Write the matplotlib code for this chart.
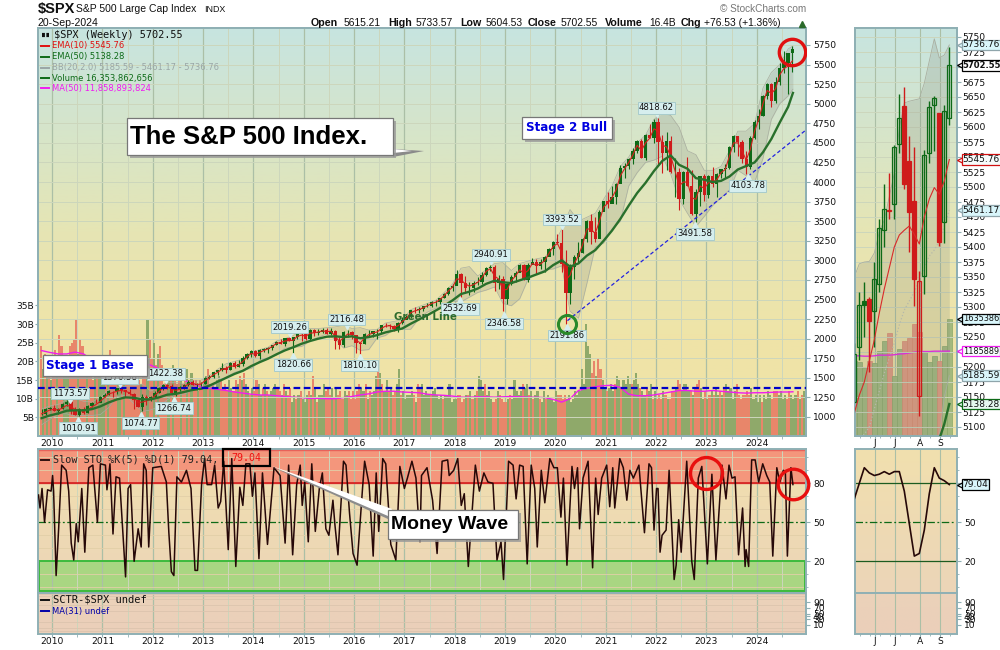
"""S&P 500 weekly chart with slow stochastic panel, StockCharts style."""
import matplotlib
matplotlib.use("Agg")
import matplotlib.pyplot as plt
import numpy as np
from matplotlib.colors import LinearSegmentedColormap
from matplotlib.patches import Polygon, Rectangle
from matplotlib.transforms import blended_transform_factory

# ── Long-range price data, one row per year, Oct 2009 to Sep 2024 ─────────────
spx_close = [
    1036, 1096, 1115,
    1074, 1104, 1169, 1187, 1089, 1031, 1102, 1049, 1141, 1183, 1181, 1258,
    1286, 1327, 1326, 1364, 1345, 1321, 1292, 1219, 1131, 1253, 1247, 1258,
    1312, 1366, 1408, 1398, 1310, 1362, 1379, 1407, 1441, 1412, 1416, 1426,
    1498, 1515, 1569, 1597, 1631, 1606, 1686, 1633, 1682, 1757, 1806, 1848,
    1783, 1859, 1872, 1884, 1924, 1960, 1931, 2003, 1972, 2018, 2068, 2059,
    1995, 2105, 2068, 2086, 2107, 2063, 2104, 1972, 1920, 2079, 2080, 2044,
    1940, 1932, 2060, 2065, 2097, 2099, 2174, 2171, 2168, 2126, 2199, 2239,
    2279, 2364, 2363, 2384, 2412, 2423, 2470, 2472, 2519, 2575, 2648, 2674,
    2824, 2714, 2641, 2648, 2705, 2718, 2816, 2902, 2914, 2711, 2760, 2507,
    2704, 2784, 2834, 2946, 2752, 2942, 2980, 2926, 2977, 3038, 3141, 3231,
    3226, 2954, 2585, 2912, 3044, 3100, 3271, 3500, 3363, 3270, 3622, 3756,
    3714, 3811, 3973, 4181, 4204, 4297, 4395, 4523, 4308, 4605, 4567, 4766,
    4516, 4374, 4530, 4132, 4132, 3785, 4130, 3955, 3586, 3872, 4080, 3840,
    4077, 3970, 4109, 4169, 4180, 4450, 4589, 4508, 4288, 4194, 4568, 4770,
    4846, 5096, 5254, 5036, 5278, 5460, 5522, 5648, 5702,
]
spx_high = [
    1101, 1113, 1130,
    1150, 1113, 1180, 1220, 1174, 1131, 1120, 1129, 1149, 1196, 1227, 1262,
    1302, 1344, 1332, 1368, 1371, 1346, 1356, 1307, 1229, 1293, 1277, 1269,
    1333, 1378, 1420, 1422, 1415, 1364, 1392, 1427, 1475, 1471, 1434, 1448,
    1510, 1530, 1570, 1598, 1687, 1654, 1698, 1709, 1730, 1776, 1814, 1850,
    1851, 1868, 1884, 1898, 1925, 1968, 1991, 2006, 2019, 2018, 2075, 2093,
    2064, 2120, 2117, 2125, 2135, 2130, 2133, 2113, 2021, 2094, 2116, 2104,
    2038, 1963, 2075, 2111, 2104, 2120, 2178, 2194, 2188, 2170, 2214, 2278,
    2301, 2372, 2401, 2399, 2419, 2454, 2484, 2491, 2520, 2582, 2657, 2695,
    2873, 2836, 2801, 2718, 2742, 2791, 2848, 2917, 2941, 2940, 2815, 2801,
    2708, 2813, 2861, 2950, 2955, 2965, 3028, 3014, 3022, 3050, 3154, 3248,
    3338, 3394, 3136, 2955, 3068, 3233, 3280, 3514, 3588, 3550, 3646, 3757,
    3871, 3950, 3984, 4218, 4238, 4303, 4429, 4537, 4546, 4609, 4743, 4809,
    4819, 4595, 4637, 4593, 4307, 4178, 4140, 4325, 4155, 3906, 4050, 4101,
    4095, 4195, 4110, 4170, 4232, 4458, 4607, 4584, 4541, 4393, 4587, 4793,
    4931, 5112, 5265, 5264, 5342, 5524, 5667, 5651, 5734,
]
spx_low = [
    1020, 1029, 1086,
    1071, 1044, 1105, 1135, 1040, 1028, 1011, 1040, 1049, 1131, 1173, 1186,
    1257, 1276, 1249, 1295, 1312, 1258, 1283, 1101, 1122, 1075, 1158, 1202,
    1259, 1312, 1340, 1358, 1292, 1267, 1326, 1355, 1396, 1403, 1343, 1398,
    1426, 1485, 1501, 1536, 1582, 1560, 1605, 1627, 1633, 1646, 1746, 1767,
    1771, 1737, 1834, 1814, 1859, 1915, 1931, 1905, 1964, 1821, 2001, 1973,
    1988, 1981, 2039, 2049, 2067, 2056, 2044, 1867, 1872, 1893, 2019, 1993,
    1812, 1810, 1937, 2034, 2025, 1992, 2074, 2148, 2119, 2098, 2084, 2188,
    2245, 2268, 2322, 2329, 2353, 2406, 2407, 2418, 2447, 2520, 2557, 2605,
    2683, 2533, 2585, 2553, 2594, 2691, 2699, 2803, 2865, 2604, 2631, 2347,
    2444, 2682, 2722, 2849, 2751, 2729, 2952, 2823, 2892, 2856, 3050, 3070,
    3215, 2855, 2192, 2447, 2767, 2966, 3100, 3239, 3209, 3234, 3280, 3634,
    3663, 3726, 3723, 3990, 4057, 4164, 4233, 4368, 4306, 4279, 4561, 4496,
    4223, 4115, 4157, 4121, 3811, 3637, 3721, 3955, 3585, 3492, 3698, 3764,
    3795, 3943, 3809, 4049, 4048, 4166, 4385, 4335, 4238, 4104, 4167, 4546,
    4683, 4845, 5057, 4954, 5011, 5234, 5391, 5119, 5402,
]
ema10 = [
    1040, 1065, 1090,
    1095, 1090, 1115, 1150, 1130, 1095, 1085, 1075, 1090, 1130, 1160, 1200,
    1250, 1295, 1310, 1330, 1340, 1325, 1310, 1250, 1185, 1190, 1205, 1225,
    1270, 1325, 1375, 1390, 1355, 1340, 1355, 1385, 1420, 1430, 1415, 1420,
    1465, 1500, 1540, 1570, 1610, 1620, 1650, 1650, 1665, 1710, 1770, 1810,
    1800, 1825, 1850, 1870, 1900, 1940, 1950, 1970, 1975, 1980, 2030, 2045,
    2030, 2070, 2075, 2085, 2100, 2090, 2095, 2030, 1965, 2010, 2060, 2050,
    1980, 1945, 2010, 2050, 2075, 2085, 2130, 2160, 2165, 2145, 2165, 2220,
    2260, 2330, 2355, 2370, 2395, 2420, 2450, 2465, 2500, 2550, 2610, 2660,
    2765, 2750, 2700, 2670, 2690, 2720, 2780, 2860, 2895, 2800, 2760, 2620,
    2630, 2740, 2800, 2880, 2830, 2870, 2960, 2935, 2955, 3000, 3090, 3180,
    3215, 3100, 2750, 2810, 2960, 3060, 3200, 3400, 3400, 3340, 3500, 3680,
    3730, 3800, 3900, 4080, 4170, 4250, 4350, 4470, 4400, 4500, 4560, 4680,
    4650, 4470, 4450, 4330, 4150, 3950, 4000, 4000, 3800, 3780, 3950, 3920,
    3990, 4000, 4030, 4120, 4160, 4330, 4500, 4500, 4400, 4280, 4420, 4650,
    4800, 5000, 5170, 5130, 5190, 5370, 5450, 5480, 5546,
]

# ── Volume in billions, two bars per month, r = down bar, g = up bar ──────────
volume_b = [
    24, 18, 22, 16, 21, 15,
    20, 23, 18, 27, 24, 19, 17, 20, 24, 25, 26, 31, 22, 26, 24, 19, 18, 16, 17, 15, 17, 19, 18, 21, 18, 17, 20, 23, 16, 14,
    17, 20, 19, 16, 18, 21, 17, 16, 15, 17, 19, 15, 14, 17, 16, 31, 26, 21, 25, 19, 22, 24, 19, 14, 14, 17,
    16, 19, 17, 14, 17, 15, 14, 17, 18, 15, 17, 14, 15, 12, 15, 13, 14, 16, 18, 14, 14, 13, 15, 16,
    15, 13, 14, 12, 15, 13, 12, 15, 14, 16, 15, 17, 14, 12, 11, 13, 12, 15, 14, 11, 13, 14, 12, 11, 12, 13,
    14, 13, 12, 11, 14, 12, 11, 13, 9, 11, 10, 11, 12, 10, 9, 11, 12, 11, 16, 13, 9, 11, 11, 14,
    12, 13, 11, 13, 10, 13, 11, 12, 10, 12, 11, 12, 10, 12, 10, 12, 14, 13, 12, 14, 10, 12, 11, 12,
    16, 18, 17, 14, 12, 15, 12, 13, 11, 12, 14, 18, 11, 12, 10, 11, 11, 12, 11, 9, 14, 13, 14, 11,
    12, 11, 11, 12, 13, 11, 10, 11, 10, 11, 11, 14, 9, 10, 10, 11, 11, 9, 10, 11, 11, 12, 10, 11,
    12, 16, 15, 12, 14, 11, 12, 10, 9, 10, 12, 11, 10, 9, 9, 10, 11, 10, 15, 12, 11, 12, 14, 13,
    14, 11, 12, 10, 11, 12, 10, 9, 12, 10, 11, 10, 10, 9, 12, 11, 11, 10, 11, 10, 11, 9, 10, 12,
    11, 12, 18, 14, 30, 24, 22, 17, 20, 16, 21, 18, 15, 13, 12, 13, 14, 12, 14, 16, 15, 13, 15, 14,
    16, 14, 14, 15, 17, 14, 13, 12, 11, 13, 12, 14, 10, 12, 10, 11, 10, 12, 11, 10, 10, 12, 12, 13,
    15, 14, 12, 14, 14, 12, 12, 11, 13, 14, 15, 13, 10, 12, 10, 11, 12, 11, 13, 11, 12, 11, 13, 14,
    12, 13, 10, 12, 14, 11, 10, 11, 11, 12, 11, 13, 10, 11, 9, 11, 9, 11, 10, 12, 11, 10, 12, 12,
    11, 12, 10, 11, 10, 12, 11, 10, 11, 12, 10, 11, 12, 10, 11, 14, 10, 12, 16.4,
]
volume_updown = (
    "rgrgrg"
    "rrgrrgggrrrrgrrrgrrrgrgg"
    "grgrrrrggrgrrrrrrrgrrgrr"
    "grgrrrrgrgrrrgrrgrgrrgrr"
    "ggrgrgggrrrrggrrgrgrggrg"
    "rrggrgrggggrrgrgrrggrgrg"
    "ggrgrgrgggrrrgrgrrrggrrr"
    "rrrggrgrgggrgrggrgrrggrg"
    "ggggrgrrggggrgggggrggggg"
    "grrrrgrgrgrgggrgggrrgrrr"
    "rgrgggggrggrgrggrggrgggg"
    "grrrrggggggggggggrrgrrgg"
    "rgggrggrggggrgggrggrggrg"
    "rrrgrgrrrgrrggggrgrrrggr"
    "grgrggrgrgggggrrrrrrrggg"
    "ggrggggrrrgg"
    "ggrrggg"
)

# ── Every second month (Oct, Dec, Feb ...) plus the last week ─────────────────
ema50 = [
    985, 1020,
    1045, 1080, 1085, 1085, 1100, 1135,
    1185, 1225, 1250, 1245, 1225, 1225,
    1250, 1285, 1295, 1320, 1345, 1360,
    1400, 1450, 1500, 1550, 1590, 1650,
    1700, 1745, 1800, 1850, 1890, 1935,
    1970, 2000, 2025, 2030, 2020, 2030,
    2005, 2020, 2045, 2080, 2105, 2130,
    2190, 2245, 2300, 2360, 2420, 2490,
    2570, 2600, 2640, 2700, 2740, 2720,
    2710, 2745, 2780, 2820, 2860, 2940,
    3000, 2920, 2960, 3060, 3130, 3250,
    3380, 3530, 3700, 3860, 3990, 4140,
    4270, 4340, 4220, 4170, 4050, 4030,
    4000, 4015, 4070, 4160, 4205, 4250,
    4380, 4550, 4760, 4960, 5138,
]
bb_upper = [
    1100, 1140,
    1160, 1220, 1240, 1200, 1190, 1250,
    1350, 1370, 1390, 1400, 1420, 1330,
    1390, 1440, 1440, 1430, 1470, 1470,
    1530, 1610, 1680, 1710, 1740, 1830,
    1860, 1890, 1970, 2000, 2040, 2100,
    2130, 2130, 2140, 2150, 2170, 2130,
    2140, 2110, 2120, 2200, 2220, 2240,
    2370, 2410, 2450, 2490, 2590, 2700,
    2900, 2920, 2800, 2880, 2960, 2970,
    2870, 2960, 2990, 3020, 3040, 3180,
    3400, 3650, 3500, 3550, 3600, 3780,
    3950, 4200, 4320, 4500, 4600, 4800,
    4880, 4850, 4700, 4400, 4350, 4150,
    4150, 4200, 4400, 4650, 4650, 4750,
    5200, 5400, 5500, 5700, 5737,
]
bb_lower = [
    900, 970,
    1040, 1040, 1010, 1020, 1020, 1030,
    1120, 1260, 1280, 1170, 1070, 1090,
    1130, 1220, 1290, 1290, 1340, 1370,
    1380, 1430, 1510, 1570, 1600, 1620,
    1720, 1760, 1790, 1880, 1890, 1900,
    1970, 2020, 2060, 1990, 1880, 1910,
    1850, 1860, 2010, 2040, 2120, 2120,
    2120, 2260, 2340, 2390, 2430, 2480,
    2470, 2530, 2590, 2620, 2660, 2450,
    2420, 2510, 2760, 2830, 2880, 2890,
    2930, 2350, 2260, 2700, 3170, 3220,
    3400, 3500, 3950, 4120, 4250, 4280,
    4330, 4100, 3780, 3600, 3430, 3560,
    3700, 3800, 3900, 4150, 4080, 4000,
    4300, 4800, 5000, 5100, 5186,
]
volume_ma = [
    22.9, 22.4,
    22.0, 22.0, 22.5, 22.0, 20.5, 19.5,
    18.5, 18.0, 17.5, 18.5, 19.5, 19.0,
    18.0, 17.0, 15.5, 15.0, 14.0, 13.2,
    12.8, 12.5, 12.2, 11.8, 11.5, 11.2,
    11.0, 11.0, 10.8, 10.6, 10.4, 10.3,
    10.1, 10.1, 10.0, 10.0, 10.3, 10.6,
    11.0, 11.3, 11.8, 12.0, 12.0, 11.8,
    11.7, 11.6, 11.2, 11.0, 10.9, 10.7,
    10.4, 10.4, 10.5, 10.5, 10.4, 10.5,
    10.6, 10.5, 10.4, 10.4, 10.3, 9.8,
    9.1, 10.0, 12.2, 12.8, 13.2, 13.5,
    13.6, 13.0, 11.2, 10.8, 10.8, 11.0,
    11.4, 11.8, 12.2, 12.2, 12.0, 12.0,
    12.2, 12.0, 11.8, 11.6, 11.5, 11.6,
    11.6, 11.7, 11.8, 11.8, 11.86,
]

# ── Pivot tags on the long chart ──────────────────────────────────────────────
tag_dates = [2010.36, 2010.52, 2011.34, 2012.26, 2011.76, 2012.42, 2014.72, 2014.79, 2015.85,
             2016.11, 2018.11, 2018.72, 2018.98, 2020.13, 2020.23, 2022.78, 2022.01, 2023.82]
tag_values = [1173.57, 1010.91, 1370.58, 1422.38, 1074.77, 1266.74, 2019.26, 1820.66, 2116.48,
              1810.10, 2532.69, 2940.91, 2346.58, 3393.52, 2191.86, 3491.58, 4818.62, 4103.78]
tag_above = [True, False, True, True, False, False, True, False, True,
             False, False, True, False, True, False, False, True, False]

# ── Slow stochastic turning points ────────────────────────────────────────────
sto_dates = [
    2009.73, 2009.76, 2009.80, 2009.85, 2009.91, 2009.98, 2010.01, 2010.03, 2010.08, 2010.13,
    2010.19, 2010.28, 2010.33, 2010.38, 2010.43, 2010.48, 2010.52, 2010.59, 2010.65, 2010.73,
    2010.81, 2010.90, 2010.96, 2011.06, 2011.09, 2011.15, 2011.21, 2011.27, 2011.34, 2011.46,
    2011.51, 2011.56, 2011.63, 2011.71, 2011.77, 2011.82, 2011.87, 2011.92, 2012.00, 2012.17,
    2012.27, 2012.32, 2012.37, 2012.42, 2012.48, 2012.57, 2012.67, 2012.76, 2012.84, 2012.89,
    2012.97, 2013.03, 2013.08, 2013.17, 2013.23, 2013.30, 2013.35, 2013.41, 2013.50, 2013.57,
    2013.65, 2013.73, 2013.79, 2013.85, 2013.93, 2013.98, 2014.03, 2014.11, 2014.18, 2014.28,
    2014.41, 2014.53, 2014.63, 2014.70, 2014.78, 2014.86, 2014.93, 2014.97, 2015.02, 2015.09,
    2015.16, 2015.23, 2015.31, 2015.37, 2015.44, 2015.50, 2015.58, 2015.62, 2015.68, 2015.79,
    2015.84, 2015.91, 2015.98, 2016.06, 2016.10, 2016.17, 2016.21, 2016.30, 2016.38, 2016.44,
    2016.49, 2016.57, 2016.63, 2016.73, 2016.83, 2016.91, 2017.00, 2017.06, 2017.15, 2017.23,
    2017.31, 2017.34, 2017.45, 2017.56, 2017.65, 2017.75, 2017.86, 2017.89, 2017.98, 2018.06,
    2018.13, 2018.19, 2018.27, 2018.41, 2018.49, 2018.58, 2018.66, 2018.76, 2018.84, 2018.92,
    2018.97, 2019.07, 2019.16, 2019.22, 2019.29, 2019.36, 2019.44, 2019.52, 2019.59, 2019.64,
    2019.72, 2019.79, 2019.89, 2019.97, 2020.04, 2020.11, 2020.16, 2020.23, 2020.33, 2020.38,
    2020.44, 2020.48, 2020.55, 2020.65, 2020.74, 2020.80, 2020.85, 2020.92, 2021.02, 2021.08,
    2021.14, 2021.18, 2021.28, 2021.35, 2021.42, 2021.48, 2021.55, 2021.66, 2021.77, 2021.86,
    2021.91, 2021.96, 2022.01, 2022.04, 2022.08, 2022.12, 2022.20, 2022.26, 2022.36, 2022.40,
    2022.45, 2022.50, 2022.61, 2022.71, 2022.76, 2022.84, 2022.91, 2023.02, 2023.11, 2023.19,
    2023.31, 2023.39, 2023.45, 2023.51, 2023.57, 2023.64, 2023.72, 2023.77, 2023.79, 2023.84,
    2023.90, 2023.97, 2024.04, 2024.12, 2024.20, 2024.26, 2024.32, 2024.40, 2024.46, 2024.53,
    2024.57, 2024.61, 2024.68, 2024.72,
]
sto_values = [
    71, 61, 76, 50, 75, 74, 86, 74, 9, 45,
    94, 90, 74, 34, 21, 49, 35, 76, 27, 92,
    94, 50, 95, 94, 75, 95, 41, 85, 84, 8,
    76, 79, 20, 45, 31, 95, 90, 31, 92, 93,
    81, 42, 12, 9, 85, 81, 90, 76, 13, 13,
    79, 99, 79, 79, 94, 61, 66, 97, 29, 99,
    16, 77, 63, 95, 95, 70, 88, 22, 88, 33,
    92, 86, 34, 94, 25, 79, 94, 63, 81, 35,
    95, 43, 76, 88, 45, 40, 67, 48, 25, 97,
    94, 57, 26, 17, 39, 77, 97, 79, 24, 88,
    43, 99, 95, 33, 21, 93, 76, 84, 97, 84,
    35, 86, 92, 67, 26, 97, 98, 86, 90, 99,
    63, 72, 16, 94, 74, 88, 81, 80, 21, 35,
    6, 97, 94, 68, 94, 93, 18, 94, 76, 31,
    90, 65, 99, 92, 92, 54, 84, 17, 93, 76,
    92, 45, 84, 97, 15, 84, 56, 84, 94, 62,
    92, 61, 99, 92, 67, 90, 84, 94, 42, 95,
    92, 44, 76, 76, 27, 40, 44, 90, 6, 17,
    52, 27, 97, 20, 6, 84, 93, 18, 87, 21,
    94, 68, 94, 84, 85, 25, 61, 16, 29, 16,
    98, 98, 81, 95, 86, 81, 24, 92, 81, 90,
    89, 24, 92, 79.04,
]

# ── Zoomed weekly panel, May to Sep 2024 ──────────────────────────────────────
week_open = [5142, 5233, 5310, 5313, 5294, 5338, 5429, 5460, 5471, 5572,
             5635, 5543, 5476, 5151, 5351, 5557, 5637, 5623, 5442, 5615]
week_high = [5240, 5325, 5342, 5316, 5375, 5447, 5505, 5523, 5570, 5655,
             5667, 5585, 5567, 5360, 5561, 5643, 5651, 5623, 5636, 5734]
week_low = [5142, 5211, 5250, 5191, 5234, 5325, 5400, 5447, 5447, 5557,
            5497, 5391, 5302, 5119, 5322, 5540, 5560, 5402, 5406, 5604]
week_close = [5222, 5303, 5304, 5277, 5346, 5431, 5464, 5460, 5567, 5615,
              5505, 5459, 5346, 5344, 5554, 5634, 5648, 5408, 5626, 5702.55]
week_ema10 = [5123, 5153, 5175, 5210, 5245, 5290, 5330, 5365, 5400, 5420,
              5428, 5435, 5421, 5405, 5450, 5480, 5499, 5488, 5510, 5545.76]
week_bb_upper = [5350, 5372, 5375, 5376, 5390, 5425, 5445, 5484, 5523, 5598,
                 5640, 5643, 5645, 5647, 5673, 5710, 5747, 5715, 5720, 5736.76]
week_bb_mid = [5070, 5080, 5088, 5100, 5130, 5160, 5190, 5215, 5240, 5270,
               5295, 5310, 5325, 5345, 5365, 5385, 5395, 5410, 5435, 5461.17]
week_bb_lower = [4980, 4980, 5000, 5010, 5020, 5030, 5040, 5050, 5060, 5065,
                 5070, 5070, 5060, 5050, 5055, 5060, 5065, 5085, 5150, 5185.59]
week_ema50 = [4800, 4815, 4830, 4845, 4860, 4880, 4900, 4920, 4940, 4960,
              4975, 4990, 5000, 5010, 5025, 5045, 5065, 5080, 5105, 5138.28]
week_volume = [10.5, 10.29, 9.54, 10.47, 10.15, 11.87, 13.27, 14.34, 8.38, 12.1,
               13.27, 13.64, 15.64, 14.48, 11.87, 10.33, 11.17, 10.47, 12.57, 16.35]
week_volume_ma = [11.2, 11.2, 11.15, 11.15, 11.2, 11.3, 11.3, 11.3, 11.35, 11.45,
                  11.5, 11.6, 11.7, 11.8, 11.8, 11.8, 11.85, 11.85, 11.85, 11.86]
week_sto = [68, 80, 92, 88, 86, 87, 89, 87, 89, 89,
            74, 49, 24, 26, 44, 72, 92, 84, 82, 79.04]

price_ticks = list(range(1000, 5751, 250))
volume_ticks = [5, 10, 15, 20, 25, 30, 35]
year_ticks = list(range(2010, 2025))
week_price_ticks = list(range(5100, 5751, 25))
week_month_ticks = [4.14, 8.14, 13.14, 17.14]
week_month_labels = ["J", "J", "A", "S"]
sctr_ticks = [90, 70, 50, 40, 30, 10]

GREEN = "#0d6a17"
RED = "#cf1b1b"
SPINE = "#8fb0b4"
GRID_DARK = "#abbfa6"
GRID_LIGHT = "#ccd6bc"
TEXT = "#101010"
SANS = "Liberation Sans"
MONO = "DejaVu Sans Mono"
TICK_SIZE = 6.6

plt.rcParams["font.family"] = "DejaVu Sans"
fig = plt.figure(figsize=(10, 6.5), dpi=100, facecolor="white")


def panel(left, top, right, bottom, label):
    return fig.add_axes([left / 1000, 1 - bottom / 650, (right - left) / 1000, (bottom - top) / 650],
                        label=label)


def gradient(ax, colors):
    cmap = LinearSegmentedColormap.from_list("bg", colors)
    ax.imshow(np.linspace(0, 1, 256)[:, None], cmap=cmap, extent=(0, 1, 0, 1),
              transform=ax.transAxes, aspect="auto", zorder=0)


def frame(ax):
    for spine in ax.spines.values():
        spine.set_color(SPINE)
        spine.set_linewidth(1.4)


def year_axis(ax, labels):
    ax.set_xticks(year_ticks)
    ax.set_xticks([y + 0.5 for y in year_ticks], minor=True)
    ax.set_xlim(2009.72, 2024.98)
    ax.tick_params(axis="x", which="major", length=2, pad=0.5, labelsize=TICK_SIZE, color=SPINE,
                   labelbottom=labels, labelcolor=TEXT)
    ax.tick_params(axis="x", which="minor", length=2, color=SPINE)
    ax.grid(True, axis="x", which="major", color=GRID_DARK, lw=0.9, zorder=1)
    ax.grid(True, axis="x", which="minor", color=GRID_LIGHT, lw=0.7, zorder=1)


def week_axis(ax, labels):
    ax.set_xticks(week_month_ticks)
    ax.set_xticklabels(week_month_labels if labels else [""] * 4)
    ax.set_xticks(np.arange(1, 20, 2) + 0.14, minor=True)
    ax.set_xlim(0.14, 20.54)
    ax.tick_params(axis="x", which="major", length=2, pad=0.5, labelsize=TICK_SIZE, color=SPINE, labelcolor=TEXT)
    ax.tick_params(axis="x", which="minor", length=1.5, color=SPINE)
    ax.grid(True, axis="x", which="major", color=GRID_DARK, lw=0.8, zorder=1)


def right_tag(ax, y, text, edge, face="#d9f6fb", bold=False, size=6.5, trans=None):
    trans = trans if trans is not None else ax.get_yaxis_transform()
    ax.plot([1.035], [y], marker="<", ms=5.5, mfc=face, mec=edge, mew=0.9, clip_on=False,
            transform=trans, zorder=20)
    ax.text(1.055, y, text, transform=trans, fontsize=size, color=TEXT, va="center", ha="left",
            fontweight="bold" if bold else "normal", clip_on=False, zorder=21,
            bbox=dict(boxstyle="square,pad=0.1", fc=face, ec=edge, lw=0.9))


# ── Long chart: volume sits underneath, price on top ──────────────────────────
months = 2009.75 + (np.arange(len(spx_close)) + 0.5) / 12
half_months = 2009.75 + (np.arange(len(volume_b)) + 0.5) / 24
every_second = np.append(months[::2], 2024.72)
month_open = np.array([spx_close[0]] + spx_close[:-1])
month_close = np.array(spx_close)
month_up = month_close >= month_open

ax_vol = panel(38, 28, 806, 436, "volume")
gradient(ax_vol, ["#c7e4e0", "#d6e5ca", "#e6e5b4", "#efe4a8", "#efe3a6"])
ax_vol.bar(half_months, volume_b, width=1 / 24, color=["#8fa96a" if c == "g" else "#e8866a" for c in volume_updown],
           linewidth=0, zorder=2)
ax_vol.plot(every_second, volume_ma, color="#f01cf0", lw=1.0, zorder=3)
ax_vol.set_ylim(0, 109.4)
ax_vol.set_yticks(volume_ticks)
ax_vol.set_yticklabels([f"{v}B" for v in volume_ticks])
ax_vol.tick_params(axis="y", length=2, labelsize=TICK_SIZE, pad=1, color=SPINE, labelcolor=TEXT)
year_axis(ax_vol, True)
frame(ax_vol)

ax = panel(38, 28, 806, 436, "price")
ax.patch.set_alpha(0)
ax.set_yticks(price_ticks)
ax.set_ylim(757, 5967)
ax.yaxis.tick_right()
ax.tick_params(axis="y", length=3, labelsize=TICK_SIZE, pad=2, color=SPINE, labelcolor=TEXT)
ax.grid(True, axis="y", color=GRID_LIGHT, lw=0.7, zorder=1)
ax.set_xticks([])
ax.set_xlim(2009.72, 2024.98)
frame(ax)

ax.fill_between(every_second, bb_lower, bb_upper, color="#7d8478", alpha=0.2, lw=0, zorder=2)
ax.plot(every_second, bb_upper, color="#a9aea0", lw=0.5, zorder=2)
ax.plot(every_second, bb_lower, color="#a9aea0", lw=0.5, zorder=2)
ax.axhline(1370, color="#0000c8", lw=1.6, dashes=(3, 1.6), zorder=5)
ax.plot([2020.24, 2024.98], [2230, 4665], color="#2222e0", lw=0.9, dashes=(3, 2), zorder=5)

month_colors = [GREEN if u else RED for u in month_up]
ax.vlines(months, spx_low, spx_high, colors=month_colors, lw=0.8, zorder=3)
ax.bar(months, month_close - month_open, bottom=month_open, width=0.066, color=month_colors,
       linewidth=0, zorder=3)
ax.plot(months, ema10, color="#d81f1f", lw=0.8, zorder=4)
ax.plot(every_second, ema50, color="#29702c", lw=1.7, zorder=4)

for date, value, above in zip(tag_dates, tag_values, tag_above):
    offset = 10 if above else -12
    ax.plot([date], [value + (45 if above else -45)], marker="v" if above else "^", ms=4.5,
            color="#d6eeee", mec="#d6eeee", zorder=6)
    ax.annotate(f"{value:.2f}", xy=(date, value), xytext=(0, offset), xycoords="data",
                textcoords="offset pixels", ha="center", va="center", fontsize=6.1, color=TEXT, zorder=7,
                bbox=dict(boxstyle="square,pad=0.16", fc="#d6eeee", ec="#a8cccc", lw=0.7))

ax.plot([2024.70], [5661], "o", ms=19, mfc="none", mec="#e01010", mew=2.4, zorder=8)
ax.plot([2020.23], [2188], "o", ms=13, mfc="none", mec="#2a8a2a", mew=2.2, zorder=8)

# ── Long chart legend ─────────────────────────────────────────────────────────
ax.text(0.021, 0.983, "$SPX (Weekly) 5702.55", transform=ax.transAxes, fontsize=7.4, family=MONO,
        color=TEXT, va="center", zorder=9)
ax.plot([0.005, 0.0145], [0.983, 0.983], transform=ax.transAxes, color=TEXT, lw=3, dashes=(0.7, 0.35), zorder=9)
legend_rows = [("EMA(10) 5545.76", "#e01010", 0.956), ("EMA(50) 5138.28", "#0d6a17", 0.929),
               ("BB(20,2.0) 5185.59 - 5461.17 - 5736.76", "#9aa6a6", 0.902),
               ("Volume 16,353,862,656", "#0d6a17", 0.877), ("MA(50) 11,858,893,824", "#f01cf0", 0.852)]
for text, color, y in legend_rows:
    ax.text(0.0182, y, text, transform=ax.transAxes, fontsize=6.0, color=color, va="center", zorder=9)
    ax.plot([0.004, 0.0145], [y, y], transform=ax.transAxes, color=color, lw=1.4, zorder=9)

# ── Stochastic panels ─────────────────────────────────────────────────────────
ax_sto = panel(38, 449, 806, 593, "sto")
gradient(ax_sto, ["#f1e0ae", "#ecd5b8"])
ax_sto.axhspan(80, 106.4, fc="#f4967c", ec="none", zorder=1.5)
ax_sto.axhspan(-2.6, 20, fc="#a9d682", ec="none", zorder=1.5)
ax_sto.plot([2009.72, 2024.98, 2024.98, 2009.72, 2009.72], [80, 80, 105.5, 105.5, 80], color="#e8625a", lw=1.0, zorder=2)
ax_sto.plot([2009.72, 2024.98], [80, 80], color="#d41f1f", lw=1.2, zorder=2)
ax_sto.plot([2009.74, 2024.96, 2024.96, 2009.74, 2009.74], [20, 20, -2.6, -2.6, 20], color="#3dbb3d", lw=1.4, zorder=2)
ax_sto.axhline(50, color="#0d6a17", lw=0.9, dashes=(6, 2, 1.5, 2), zorder=2)
ax_sto.plot(sto_dates, sto_values, color="#260808", lw=1.1, zorder=4)
ax_sto.set_yticks([20, 50, 80])
ax_sto.set_yticks(list(range(0, 106, 10)), minor=True)
ax_sto.set_ylim(-4.4, 106.4)
ax_sto.yaxis.tick_right()
ax_sto.tick_params(axis="y", which="major", length=3, labelsize=TICK_SIZE, pad=2, color=SPINE, labelcolor=TEXT)
ax_sto.tick_params(axis="y", which="minor", length=1.5, color=SPINE)
ax_sto.grid(True, axis="y", which="minor", color="#e2cfa8", lw=0.6, zorder=1)
year_axis(ax_sto, False)
frame(ax_sto)
ax_sto.plot([2022.99], [88], "o", ms=23, mfc="none", mec="#e80f0f", mew=2.4, zorder=8)
ax_sto.plot([2024.72], [79.5], "o", ms=22, mfc="none", mec="#e80f0f", mew=2.4, zorder=8, clip_on=False)
ax_sto.text(0.0195, 0.925, "Slow STO %K(5) %D(1) 79.04,", transform=ax_sto.transAxes, fontsize=7.3,
            family=MONO, color="#222222", va="center", zorder=9)
ax_sto.plot([0.004, 0.0145], [0.925, 0.925], transform=ax_sto.transAxes, color="#301010", lw=1.4, zorder=9)

ax_sctr = panel(38, 593, 806, 634, "sctr")
gradient(ax_sctr, ["#ebd2ba", "#ebcfb9"])
ax_sctr.set_yticks(sctr_ticks)
ax_sctr.set_yticks(list(range(-20, 121, 10)), minor=True)
ax_sctr.set_ylim(-22, 122)
ax_sctr.yaxis.tick_right()
ax_sctr.tick_params(axis="y", which="major", length=3, labelsize=TICK_SIZE, pad=2, color=SPINE, labelcolor=TEXT)
ax_sctr.tick_params(axis="y", which="minor", length=0)
ax_sctr.grid(True, axis="y", which="minor", color="#dcc4ae", lw=0.6, zorder=1)
year_axis(ax_sctr, True)
frame(ax_sctr)
ax_sctr.text(0.0195, 0.83, "SCTR-$SPX undef", transform=ax_sctr.transAxes, fontsize=7.5, family=MONO,
             color="#111111", va="center")
ax_sctr.plot([0.004, 0.0145], [0.83, 0.83], transform=ax_sctr.transAxes, color="#111111", lw=1.4)
ax_sctr.text(0.0182, 0.56, "MA(31) undef", transform=ax_sctr.transAxes, fontsize=6.0, color="#0000a8", va="center")
ax_sctr.plot([0.004, 0.0145], [0.56, 0.56], transform=ax_sctr.transAxes, color="#0000a8", lw=1.4)

# ── Zoomed weekly panel ───────────────────────────────────────────────────────
weeks = np.arange(len(week_close))
prev_close = np.array([week_close[0]] + week_close[:-1])
w_open, w_high, w_low, w_close = map(np.array, (week_open, week_high, week_low, week_close))
w_colors = [GREEN if c >= p else RED for c, p in zip(w_close, prev_close)]

ax_wvol = panel(855, 28, 957, 436, "week_volume")
gradient(ax_wvol, ["#c7e4e0", "#d6e5ca", "#e6e5b4", "#efe4a8", "#efe3a6"])
ax_wvol.bar(weeks, week_volume, width=0.92, color=["#a3b97e" if c == GREEN else "#e39a80" for c in w_colors],
            edgecolor=["#8aa868" if c == GREEN else "#dd8a70" for c in w_colors], linewidth=0.5, zorder=2)
ax_wvol.plot(weeks, week_volume_ma, color="#f01cf0", lw=1.0, zorder=3)
ax_wvol.set_ylim(0, 57)
ax_wvol.tick_params(axis="y", left=False, labelleft=False)
week_axis(ax_wvol, True)
frame(ax_wvol)

ax_w = panel(855, 28, 957, 436, "week_price")
ax_w.patch.set_alpha(0)
ax_w.set_xticks([])
ax_w.set_xlim(0.14, 20.54)
ax_w.set_yticks(week_price_ticks)
ax_w.set_ylim(5085, 5765)
ax_w.yaxis.tick_right()
ax_w.tick_params(axis="y", length=3, labelsize=TICK_SIZE, pad=1, color=SPINE, labelcolor=TEXT)
ax_w.grid(True, axis="y", color=GRID_LIGHT, lw=0.7, zorder=1)
frame(ax_w)

ax_w.fill_between(weeks, week_bb_lower, week_bb_upper, color="#7d8478", alpha=0.2, lw=0, zorder=2)
ax_w.plot(weeks, week_bb_upper, color="#a9aea0", lw=0.6, zorder=2)
ax_w.plot(weeks, week_bb_lower, color="#a9aea0", lw=0.6, zorder=2)
ax_w.plot(weeks, week_bb_mid, color="#b5b8aa", lw=0.9, ls=":", zorder=2)
ax_w.vlines(weeks, w_low, w_high, colors=w_colors, lw=1.0, zorder=3)
for x, o, c, color in zip(weeks, w_open, w_close, w_colors):
    filled = c < o
    ax_w.add_patch(Rectangle((x - 0.38, min(o, c)), 0.76, max(abs(c - o), 1.5), fc=color if filled else "none",
                             ec=color, lw=0.9, zorder=3.5))
ax_w.plot(weeks, week_ema10, color="#d92a2a", lw=0.8, zorder=4)
ax_w.plot(weeks, week_ema50, color="#29702c", lw=1.7, zorder=4)

# volume tags go on the price axes too, otherwise its tick labels cover them
volume_trans = blended_transform_factory(ax_w.transAxes, ax_wvol.transData)
right_tag(ax_w, 5736.76, "5736.76", "#8fa5ab")
right_tag(ax_w, 5702.55, "5702.55", "#000000", face="#ffffff", bold=True, size=6.1)
right_tag(ax_w, 5545.76, "5545.76", "#d01010", face="#f6fbfb")
right_tag(ax_w, 5461.17, "5461.17", "#8fa5ab")
right_tag(ax_w, 5185.59, "5185.59", "#8fa5ab")
right_tag(ax_w, 5138.28, "5138.28", "#0d6a17", face="#e6f7f0")
right_tag(ax_w, 16.35, "1635386", "#000000", size=5.9, trans=volume_trans)
right_tag(ax_w, 11.86, "1185889", "#f01cf0", face="#f7fdfd", size=5.9, trans=volume_trans)
ax_w.set_ylim(5085, 5765)

ax_wsto = panel(855, 449, 957, 593, "week_sto")
gradient(ax_wsto, ["#f1e0ae", "#ecd5b8"])
ax_wsto.axhline(80, color="#1c5c20", lw=0.9, zorder=2)
ax_wsto.axhline(20, color="#1c5c20", lw=0.9, zorder=2)
ax_wsto.axhline(50, color="#0d6a17", lw=0.9, dashes=(6, 2, 1.5, 2), zorder=2)
ax_wsto.plot(weeks, week_sto, color="#260808", lw=1.2, zorder=4)
ax_wsto.set_yticks([20, 50, 80])
ax_wsto.set_yticks(list(range(0, 106, 10)), minor=True)
ax_wsto.set_yticklabels(["20", "50", ""])
ax_wsto.set_ylim(-4.4, 106.4)
ax_wsto.yaxis.tick_right()
ax_wsto.tick_params(axis="y", which="major", length=3, labelsize=TICK_SIZE, pad=2, color=SPINE, labelcolor=TEXT)
ax_wsto.tick_params(axis="y", which="minor", length=1.5, color=SPINE)
week_axis(ax_wsto, False)
frame(ax_wsto)
right_tag(ax_wsto, 79.04, "79.04", "#000000")

ax_wsctr = panel(855, 593, 957, 634, "week_sctr")
gradient(ax_wsctr, ["#ebd2ba", "#ebcfb9"])
ax_wsctr.set_yticks(sctr_ticks)
ax_wsctr.set_ylim(-22, 122)
ax_wsctr.yaxis.tick_right()
ax_wsctr.tick_params(axis="y", length=3, labelsize=TICK_SIZE, pad=2, color=SPINE, labelcolor=TEXT)
week_axis(ax_wsctr, True)
frame(ax_wsctr)

# ── Header text and callouts, in figure pixels ────────────────────────────────
over = fig.add_axes([0, 0, 1, 1], label="overlay", zorder=50)
over.set_xlim(0, 1000)
over.set_ylim(650, 0)
over.axis("off")

over.text(38, 9.5, "$SPX", family=SANS, fontweight="bold", fontsize=10.5, va="center", color=TEXT)
over.text(76, 9.5, "S&P 500 Large Cap Index", family=SANS, fontsize=7.5, va="center", color=TEXT)
over.text(204, 9.5, "INDX", family=SANS, fontsize=6.4, va="center", color=TEXT)
over.text(38, 22.5, "20-Sep-2024", family=SANS, fontsize=7.6, va="center", color=TEXT)
over.text(806, 9.5, "© StockCharts.com", family=SANS, fontsize=7.2, va="center", ha="right", color="#777777")

header_parts = [(311, "Open", True), (344, "5615.21", False), (388, "High", True), (416, "5733.57", False),
                (460, "Low", True), (486, "5604.53", False), (528, "Close", True), (561, "5702.55", False),
                (605, "Volume", True), (649, "16.4B", False), (681, "Chg", True), (704, "+76.53 (+1.36%)", False)]
for x, text, bold in header_parts:
    over.text(x, 22.5, text, family=SANS, fontsize=7.7 if bold else 7.4, va="center", color=TEXT,
              fontweight="bold" if bold else "normal")
over.plot([802], [23.5], marker="^", ms=4, color="#2a6a2a")


def callout(left, top, right, bottom, text, size, color, family, text_x=None):
    over.add_patch(Rectangle((left + 3, top + 3), right - left, bottom - top, fc="#9a9a9a", ec="none", alpha=0.8))
    over.add_patch(Rectangle((left, top), right - left, bottom - top, fc="white", ec="#777777", lw=0.9))
    over.text(text_x if text_x else (left + right) / 2, (top + bottom) / 2, text, fontsize=size, color=color,
              family=family, fontweight="bold", ha="left" if text_x else "center", va="center")


over.add_patch(Polygon([(393, 149), (424, 151), (393, 157)], fc="#8a8a8a", ec="none"))
over.add_patch(Polygon([(393, 149), (412, 151), (393, 153)], fc="white", ec="none"))
callout(127, 118, 393, 155, "The S&P 500 Index.", 18.5, "black", SANS, text_x=130)
callout(522, 117, 612, 139, "Stage 2 Bull", 8.6, "#0000e0", "DejaVu Sans")
callout(43, 355, 147, 376, "Stage 1 Base", 8.6, "#0000e0", "DejaVu Sans", text_x=46)
over.text(394, 317, "Green Line", family="DejaVu Sans", fontsize=7.4, fontweight="bold", color="#2d6b2d", va="center")

over.add_patch(Rectangle((223, 449), 47, 17, fc="none", ec="black", lw=1.6))
over.text(246.5, 458, "79.04", color="#f01010", fontsize=7.2, family=MONO, ha="center", va="center")

over.add_patch(Polygon([(272, 467), (392, 512), (388, 519)], fc="#8c8c8c", ec="none"))
over.add_patch(Polygon([(272, 466), (392, 509), (388, 516)], fc="white", ec="none"))
callout(388, 510, 518, 539, "Money Wave", 14, "black", SANS, text_x=391)

fig.savefig("out.png", dpi=100)
